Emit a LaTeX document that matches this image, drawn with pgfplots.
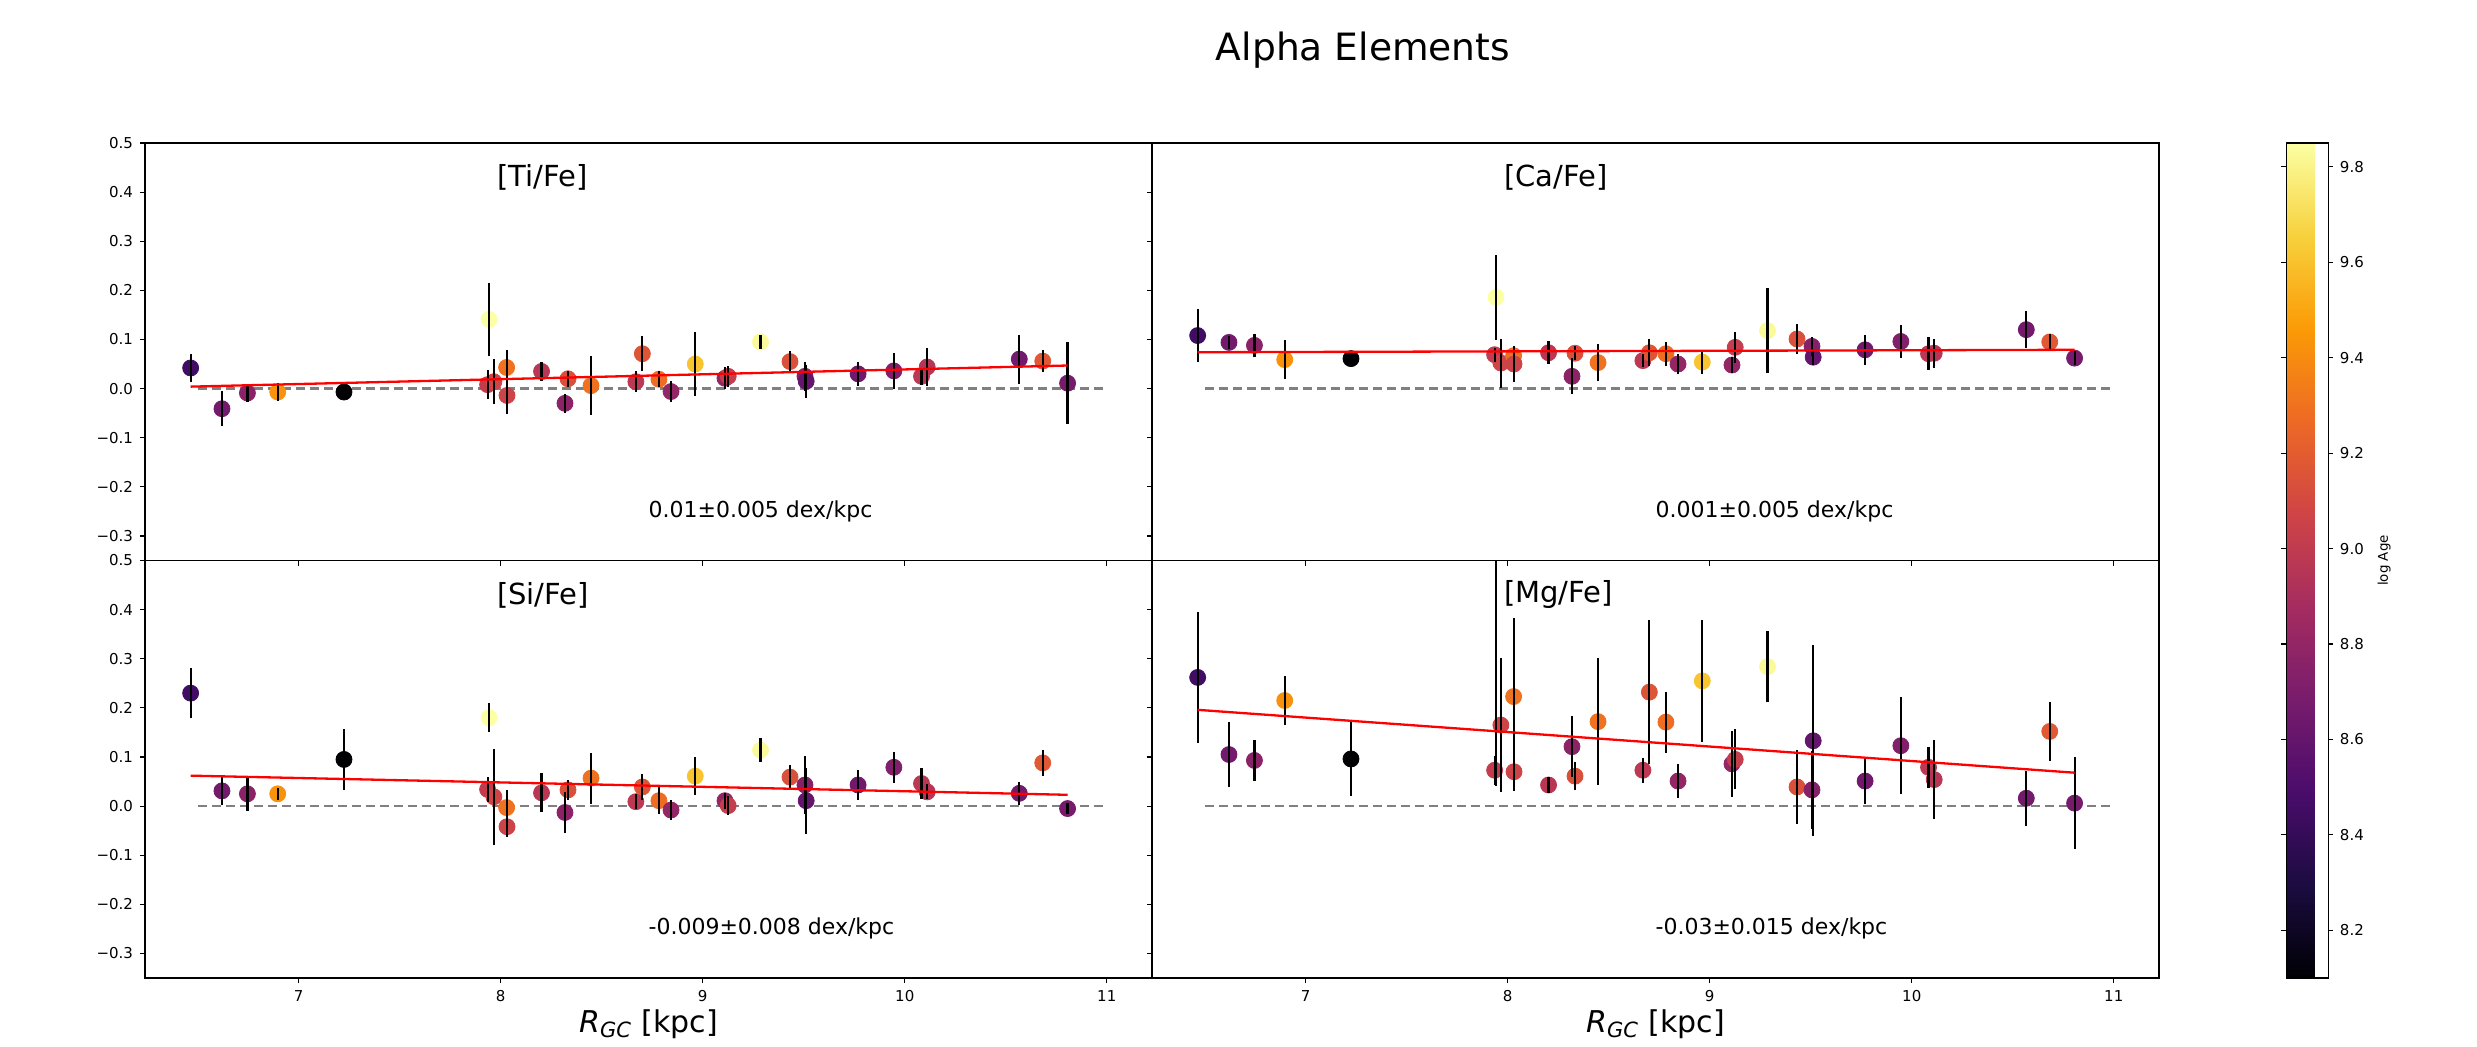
\documentclass[border=0pt]{standalone}
\usepackage{fontspec}
\setmainfont{DejaVu Sans}
\usepackage{pgfplots}
\usepackage{pgfplotstable}
\pgfplotsset{compat=1.18}

% inferno colour map, ten evenly spaced samples
\pgfplotsset{
  colormap={inferno}{
    rgb255=(0,0,4) rgb255=(27,12,65) rgb255=(74,12,107) rgb255=(120,28,109)
    rgb255=(165,44,96) rgb255=(207,68,70) rgb255=(237,105,37) rgb255=(251,155,6)
    rgb255=(247,209,61) rgb255=(252,255,164)},
}

% cluster: R_GC, log Age, then [X/Fe] value and error for Ti, Ca, Si, Mg
\pgfplotstableread{
x      a     ti     tie    ca     cae    si     sie    mg     mge
6.465  8.45  0.042  0.029  0.108  0.054  0.230  0.051  0.262  0.133
6.620  8.66  -0.041 0.036  0.094  0.013  0.031  0.028  0.105  0.067
6.746  8.76  -0.009 0.019  0.088  0.024  0.025  0.034  0.093  0.041
6.896  9.42  -0.007 0.019  0.059  0.039  0.025  0.012  0.215  0.050
7.224  8.10  -0.007 0.005  0.061  0.012  0.095  0.062  0.096  0.075
7.942  9.85  0.141  0.074  0.186  0.087  0.180  0.029  0.510  0.470
7.935  9.01  0.008  0.029  0.069  0.014  0.034  0.025  0.073  0.030
7.966  9.07  0.014  0.046  0.052  0.050  0.019  0.098  0.165  0.136
8.029  9.30  0.043  0.035  0.067  0.020  -0.003 0.036  0.223  0.160
8.031  9.06  -0.014 0.037  0.050  0.037  -0.042 0.020  0.070  0.040
8.202  8.97  0.035  0.019  0.073  0.023  0.027  0.040  0.043  0.016
8.318  8.77  -0.030 0.019  0.025  0.037  -0.013 0.042  0.121  0.062
8.333  9.13  0.020  0.016  0.072  0.014  0.033  0.020  0.061  0.029
8.447  9.30  0.006  0.060  0.053  0.037  0.057  0.052  0.172  0.130
8.669  8.98  0.014  0.021  0.057  0.013  0.009  0.015  0.073  0.025
8.701  9.16  0.071  0.036  0.073  0.027  0.039  0.026  0.232  0.146
8.783  9.28  0.019  0.016  0.071  0.024  0.011  0.028  0.171  0.062
8.843  8.80  -0.006 0.021  0.050  0.020  -0.008 0.020  0.051  0.034
8.963  9.61  0.050  0.065  0.054  0.025  0.061  0.038  0.255  0.124
9.110  8.80  0.021  0.022  0.048  0.017  0.011  0.016  0.086  0.067
9.126  9.02  0.025  0.022  0.084  0.032  0.001  0.019  0.095  0.061
9.286  9.83  0.095  0.014  0.118  0.087  0.114  0.024  0.284  0.072
9.432  9.14  0.055  0.022  0.101  0.030  0.059  0.024  0.039  0.075
9.506  8.74  0.025  0.030  0.086  0.020  0.043  0.060  0.033  0.080
9.512  8.60  0.015  0.034  0.064  0.015  0.011  0.067  0.133  0.194
9.769  8.65  0.030  0.024  0.079  0.030  0.043  0.031  0.051  0.047
9.946  8.72  0.036  0.036  0.096  0.033  0.079  0.032  0.123  0.099
10.083 8.98  0.025  0.017  0.071  0.034  0.046  0.032  0.079  0.042
10.111 8.96  0.044  0.038  0.072  0.030  0.029  0.015  0.054  0.080
10.567 8.66  0.060  0.050  0.120  0.038  0.026  0.023  0.016  0.056
10.683 9.18  0.056  0.022  0.095  0.016  0.088  0.026  0.152  0.060
10.806 8.68  0.011  0.084  0.062  0.014  -0.005 0.012  0.006  0.094
}\clusters

\tikzset{
  elem/.style={anchor=west, inner sep=0pt, font=\fontsize{14.5}{17}\selectfont},
  slope/.style={anchor=west, inner sep=0pt, font=\fontsize{11}{13}\selectfont},
}

\pgfplotsset{
  panel/.style={
    width=503.5pt, height=208.75pt, scale only axis, anchor=south west,
    xmin=6.239, xmax=11.224, ymin=-0.35, ymax=0.5,
    xtick={7,8,9,10,11},
    ytick={-0.3,-0.2,-0.1,0,0.1,0.2,0.3,0.4,0.5},
    tick align=outside, tick pos=left, major tick length=2.5pt,
    tick style={black, line width=0.6pt},
    axis line style={line width=0.7pt},
    tick label style={font=\fontsize{7.5}{9}\selectfont},
    clip marker paths=true,
    colormap name=inferno, point meta min=8.10, point meta max=9.85,
    xlabel style={at={(axis description cs:0.5,-0.11)}, anchor=center,
      font=\fontsize{15}{18}\selectfont},
  },
  ylabs/.style={yticklabels={−0.3,−0.2,−0.1,0.0,0.1,0.2,0.3,0.4,0.5}},
  xlabs/.style={xticklabels={7,8,9,10,11},
    xlabel={\textit{R}\textsubscript{\textit{GC}} [kpc]}},
  zeroline/.style={gray, line width=1.2pt, dash pattern=on 4.5pt off 2.5pt},
  fitline/.style={red, line width=1.15pt},
  dots/.style={scatter, only marks, mark=*, mark size=4pt,
    scatter/use mapped color={draw=mapped color, fill=mapped color},
    point meta=explicit},
  bars/.style={draw=none, mark=none,
    error bars/.cd, y dir=both, y explicit, error mark=none,
    error bar style={draw=black, solid, line width=1.1pt}},
}

\begin{document}
\begin{tikzpicture}
\path[use as bounding box] (0,0) rectangle (1238.5pt,523pt);

\node[font=\fontsize{18.8}{22}\selectfont] at (681.5pt,497.75pt) {Alpha Elements};

% [Ti/Fe]
\begin{axis}[panel, at={(72.5pt,242.75pt)}, ylabs, xticklabels={}]
  \addplot[zeroline] coordinates {(6.5,0) (11,0)};
  \addplot[dots] table[x=x, y=ti, meta=a] \clusters;
  \addplot[bars] table[x=x, y=ti, y error=tie] \clusters;
  \addplot[fitline] coordinates {(6.465,0.004) (10.806,0.047)};
  \node[elem] at (axis cs:7.98,0.43) {[Ti/Fe]};
  \node[slope] at (axis cs:8.73,-0.25) {0.01±0.005 dex/kpc};
\end{axis}

% [Ca/Fe]
\begin{axis}[panel, at={(576pt,242.75pt)}, yticklabels={}, xticklabels={}]
  \addplot[zeroline] coordinates {(6.5,0) (11,0)};
  \addplot[dots] table[x=x, y=ca, meta=a] \clusters;
  \addplot[bars] table[x=x, y=ca, y error=cae] \clusters;
  \addplot[fitline] coordinates {(6.465,0.074) (10.806,0.079)};
  \node[elem] at (axis cs:7.98,0.43) {[Ca/Fe]};
  \node[slope] at (axis cs:8.73,-0.25) {0.001±0.005 dex/kpc};
\end{axis}

% [Si/Fe]
\begin{axis}[panel, at={(72.5pt,34pt)}, ylabs, xlabs]
  \addplot[zeroline] coordinates {(6.5,0) (11,0)};
  \addplot[dots] table[x=x, y=si, meta=a] \clusters;
  \addplot[bars] table[x=x, y=si, y error=sie] \clusters;
  \addplot[fitline] coordinates {(6.465,0.062) (10.806,0.023)};
  \node[elem] at (axis cs:7.98,0.43) {[Si/Fe]};
  \node[slope] at (axis cs:8.73,-0.25) {-0.009±0.008 dex/kpc};
\end{axis}

% [Mg/Fe] with the log Age colour bar
\begin{axis}[panel, at={(576pt,34pt)}, yticklabels={}, xlabs,
  colorbar,
  colorbar style={
    at={(parent axis.south east)}, anchor=south west, xshift=55pt,
    width=21pt, height=417.5pt, scale only axis,
    ytick={8.2,8.4,8.6,8.8,9.0,9.2,9.4,9.6,9.8},
    yticklabels={8.2,8.4,8.6,8.8,9.0,9.2,9.4,9.6,9.8},
    tick align=outside, major tick length=2.4pt,
    tick style={black, line width=0.6pt},
    axis line style={line width=0.6pt},
    yticklabel style={font=\fontsize{7.5}{9}\selectfont},
    ylabel={log Age}, ylabel style={font=\fontsize{6.7}{8}\selectfont},
  }]
  \addplot[zeroline] coordinates {(6.5,0) (11,0)};
  \addplot[dots] table[x=x, y=mg, meta=a] \clusters;
  \addplot[bars] table[x=x, y=mg, y error=mge] \clusters;
  \addplot[fitline] coordinates {(6.465,0.196) (10.806,0.068)};
  \node[elem] at (axis cs:7.98,0.43) {[Mg/Fe]};
  \node[slope] at (axis cs:8.73,-0.25) {-0.03±0.015 dex/kpc};
\end{axis}
\end{tikzpicture}
\end{document}
